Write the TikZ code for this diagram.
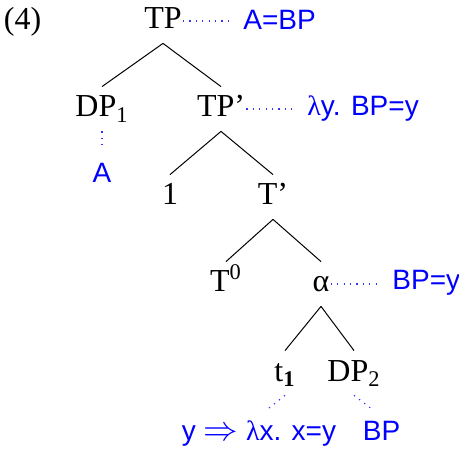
\documentclass[tikz,border=0pt]{standalone}
\usepackage{fontspec}
\setmainfont{Liberation Serif}
\newfontfamily\semfont{Liberation Sans}
\usetikzlibrary{positioning}

\begin{document}
\begin{tikzpicture}[
  x=0.5pt, y=-0.5pt,
  cat/.style={anchor=base, font=\fontsize{16}{19}\selectfont, text height=8pt, text depth=0pt, inner xsep=0.5pt, inner ysep=7pt},
  sem/.style={anchor=base, text=blue, font=\semfont\fontsize{14}{17}\selectfont, inner sep=2pt},
  branch/.style={line width=0.5pt},
  link/.style={blue!80, line width=0.6pt, dash pattern=on 0.6pt off 2.6pt, shorten >=4.5pt}
]
\useasboundingbox (0,0) rectangle (459,453);

% Example number
\node[anchor=base, font=\fontsize{16}{19}\selectfont, inner sep=0pt] (exnum) at (22.5,30) {(4)};

% Tree, level by level
\node[cat] (tp) at (163,29) {TP};
\node[cat] (dpone) at (102,117) {DP\textsubscript{1}};
\node[cat] (tpbar) at (221,117) {TP’};
\node[cat] (one) at (170,205) {1};
\node[cat] (tbar) at (273,205) {T’};
\node[cat] (tzero) at (226,292) {T\textsuperscript{0}};
\node[cat] (alpha) at (321,292) {α};
\node[cat] (tone) at (285,381) {t\textsubscript{\textbf{1}}};
\node[cat] (dptwo) at (354,381) {DP\textsubscript{2}};

\draw[branch] (tp.south) -- (dpone.north);
\draw[branch] (tp.south) -- (tpbar.north);
\draw[branch] (tpbar.south) -- (one.north);
\draw[branch] (tpbar.south) -- (tbar.north);
\draw[branch] (tbar.south) -- (tzero.north);
\draw[branch] (tbar.south) -- (alpha.north);
\draw[branch] (alpha.south) -- (tone.north);
\draw[branch] (alpha.south) -- (dptwo.north);

% Meanings
\node[sem, anchor=base west] (semtp) at (239,30) {A=BP};
\node[sem, anchor=base west] (semtpbar) at (303,116) {\textrm{λ}y. BP=y};
\node[sem, anchor=base west] (semalpha) at (388,290) {BP=y};
\node[sem] (semdpone) at (102,183) {A};
\node[sem] (semtone) at (259,440) {y {\fontsize{17}{19}\selectfont$\Rightarrow$} \textrm{λ}x. x=y};
\node[sem] (semdptwo) at (381.5,440) {BP};

\draw[link] (tp.east) -- (tp.east -| semtp.west);
\draw[link] (tpbar.east) -- (tpbar.east -| semtpbar.west);
\draw[link] (alpha.east) -- (alpha.east -| semalpha.west);
\draw[link] (dpone.south) -- (semdpone.north);
\draw[link] (tone.south) -- (semtone.north);
\draw[link] (dptwo.south) -- (semdptwo.north);
\end{tikzpicture}
\end{document}
